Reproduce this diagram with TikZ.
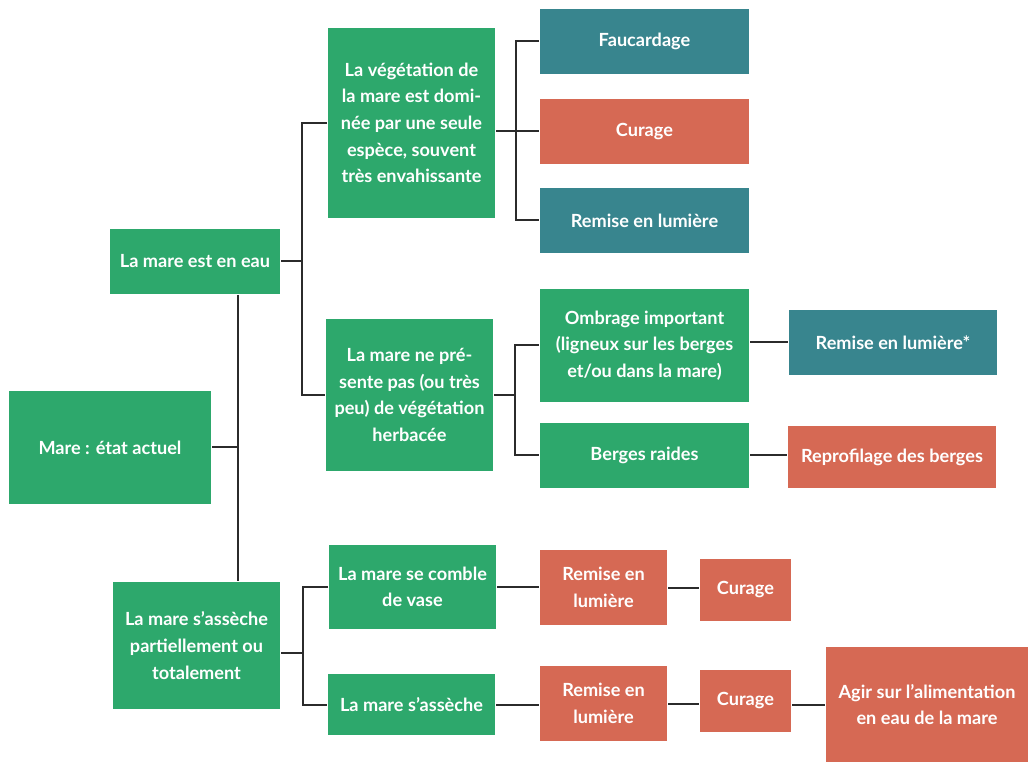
\documentclass[tikz,border=0pt]{standalone}
\usepackage{fontspec}
\setmainfont{Lato}
\definecolor{vert}{HTML}{2DA86C}
\definecolor{bleu}{HTML}{38858E}
\definecolor{rouge}{HTML}{D66954}
\definecolor{trait}{HTML}{2B2B2B}
\begin{document}
\begin{tikzpicture}[x=0.75pt,y=-0.75pt,line width=1.5pt,draw=trait]
	\tikzstyle{box}=[inner sep=0pt,text=white,align=center,font=\bfseries\fontsize{13.6}{20}\selectfont]
	\tikzstyle{vert}=[box,fill=vert]
	\tikzstyle{bleu}=[box,fill=bleu]
	\tikzstyle{rouge}=[box,fill=rouge]
	\useasboundingbox (0,0) rectangle (1028,762);

	% constats
	\node[vert,minimum width=151.5pt,minimum height=84.75pt](racine) at (110,447.5){Mare : état actuel};
	\node[vert,minimum width=127.5pt,minimum height=48.75pt](eneau) at (195,261.5){La mare est en eau};
	\node[vert,minimum width=125.25pt,minimum height=95.25pt](asseche) at (196.5,645.5){La mare s’assèche\\partiellement ou\\totalement};
	\node[vert,minimum width=125.25pt,minimum height=142.5pt](vegetation) at (411.5,123){La végétation de\\la mare est domi-\\née par une seule\\espèce, souvent\\très envahissante};
	\node[vert,minimum width=125.25pt,minimum height=114pt](nepresente) at (409.5,395){La mare ne pré-\\sente pas (ou très\\peu) de végétation\\herbacée};
	\node[vert,minimum width=125.25pt,minimum height=63pt](comble) at (412.5,587){La mare se comble\\de vase};
	\node[vert,minimum width=125.25pt,minimum height=45.75pt](sasseche) at (411.5,704.5){La mare s’assèche};
	\node[vert,minimum width=156.75pt,minimum height=84.75pt](ombrage) at (644.5,345.5){Ombrage important\\(ligneux sur les berges\\et/ou dans la mare)};
	\node[vert,minimum width=156.75pt,minimum height=48.75pt](berges) at (644.5,455.5){Berges raides};

	% actions
	\node[bleu,minimum width=156.75pt,minimum height=48.75pt](fauc) at (644.5,41.5){Faucardage};
	\node[rouge,minimum width=156.75pt,minimum height=48.75pt](curage1) at (644.5,131.5){Curage};
	\node[bleu,minimum width=156.75pt,minimum height=48.75pt](remise1) at (644.5,220.5){Remise en lumière};
	\node[bleu,minimum width=156pt,minimum height=48.75pt](remise2) at (893,342.5){Remise en lumière*};
	\node[rouge,minimum width=156pt,minimum height=46.5pt](reprofil) at (892,457){Reprofilage des berges};
	\node[rouge,minimum width=95.25pt,minimum height=56.25pt](remiseA) at (603.5,587.5){Remise en\\lumière};
	\node[rouge,minimum width=68.25pt,minimum height=46.5pt](curageA) at (745.5,590){Curage};
	\node[rouge,minimum width=95.25pt,minimum height=56.25pt](remiseB) at (603.5,703.5){Remise en\\lumière};
	\node[rouge,minimum width=68.25pt,minimum height=46.5pt](curageB) at (745.5,701){Curage};
	\node[rouge,minimum width=151.5pt,minimum height=86.25pt](agir) at (927,704.5){Agir sur l’alimentation\\en eau de la mare};

	\coordinate (t0) at (238,0);
	\coordinate (t1) at (302,0);
	\coordinate (t2) at (516,0);
	\coordinate (t3) at (515,0);
	\coordinate (t4) at (303,0);

	\draw (racine) -- (racine -| t0);
	\draw (eneau.south -| t0) -- (asseche.north -| t0);
	\draw (eneau) -- (eneau -| t1);
	\draw (vegetation.west) -- (vegetation.west -| t1) |- (nepresente.west);
	\draw (vegetation.east |- curage1) -- (curage1);
	\draw (fauc.west) -- (fauc.west -| t2) |- (remise1.west);
	\draw (nepresente) -- (nepresente -| t3);
	\draw (ombrage.west) -- (ombrage.west -| t3) |- (berges.west);
	\draw (ombrage.east |- remise2.west) -- (remise2.west);
	\draw (berges.east) -- (berges.east -| reprofil.west);
	\draw ([yshift=-5.6pt]asseche.east) -- ([yshift=-5.6pt]asseche.east -| t4);
	\draw (comble.west) -- (comble.west -| t4) |- (sasseche.west);
	\draw (comble.east) -- (comble.east -| remiseA.west);
	\draw (remiseA.east) -- (remiseA.east -| curageA.west);
	\draw (sasseche.east) -- (sasseche.east -| remiseB.west);
	\draw (remiseB.east) -- (remiseB.east -| curageB.west);
	\draw (curageB.east |- agir.west) -- (agir.west);
\end{tikzpicture}
\end{document}
